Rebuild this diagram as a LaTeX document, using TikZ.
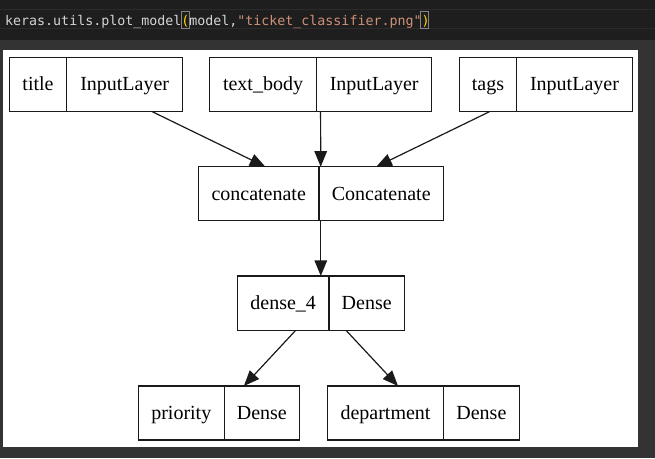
\documentclass[tikz,border=0pt]{standalone}
\usepackage{fontspec}
\setmainfont{Liberation Serif}
\newfontfamily\codefont{DejaVu Sans Mono}
\usetikzlibrary{arrows.meta,calc}
\definecolor{bgdark}{HTML}{1E1E1E}
\definecolor{bggray}{HTML}{333333}
\definecolor{bandline}{HTML}{2B2B2B}
\definecolor{codetxt}{HTML}{D4D4D4}
\definecolor{codestr}{HTML}{CE9178}
\definecolor{codebrk}{HTML}{FFD700}
\definecolor{brkbox}{HTML}{858585}
\definecolor{edgecol}{HTML}{1A1A1A}
\begin{document}
\begin{tikzpicture}[x=1pt,y=-1pt,
  rec/.style={draw=edgecol, line width=1.1pt, fill=white, minimum height=54pt, inner sep=0pt, outer sep=0pt},
  divline/.style={draw=edgecol, line width=1.1pt},
  lbl/.style={font=\fontsize{20}{24}\selectfont, anchor=base, inner sep=0pt, text=black},
  arr/.style={draw=edgecol, line width=1.2pt, -{Triangle[length=15.5pt,width=12.5pt]}}]
\useasboundingbox (0,0) rectangle (655,458);
% background
\fill[bgdark] (0,0) rectangle (655,40);
\fill[bggray] (0,40) rectangle (655,458);
\draw[bandline, line width=1pt] (0,9.5) -- (655,9.5);
\draw[bandline, line width=1pt] (0,28.5) -- (655,28.5);
\fill[white] (3,50) rectangle (638,447);
% code line
\draw[brkbox, line width=0.9pt] (181.5,11.5) rectangle (189.5,28.5);
\draw[brkbox, line width=0.9pt] (420.8,11.5) rectangle (428.6,28.5);
\node[anchor=base west, inner sep=0pt, font=\codefont\fontsize{13.3}{16}\selectfont, text=codetxt] (code) at (5,25)
  {keras.utils.plot\_model\textcolor{codebrk}{(}model,\textcolor{codestr}{"ticket\_classifier.png"}\textcolor{codebrk}{)}};
% records
\node[rec, minimum width=173.4pt] (title) at (96,84.3) {};
\draw[divline] ($(title.north west)+(57.4,0)$) -- ($(title.south west)+(57.4,0)$);
\node[lbl] (title-l) at (38,90.8) {title};
\node[lbl] (title-r) at (124.7,90.8) {InputLayer};

\node[rec, minimum width=222.4pt] (body) at (320.5,84.3) {};
\draw[divline] ($(body.north west)+(107.4,0)$) -- ($(body.south west)+(107.4,0)$);
\node[lbl] (body-l) at (263,90.8) {text\_body};
\node[lbl] (body-r) at (374.2,90.8) {InputLayer};

\node[rec, minimum width=173pt] (tags) at (545.8,84.3) {};
\draw[divline] ($(tags.north west)+(57.4,0)$) -- ($(tags.south west)+(57.4,0)$);
\node[lbl] (tags-l) at (488,90.8) {tags};
\node[lbl] (tags-r) at (574.5,90.8) {InputLayer};

\node[rec, minimum width=245pt] (concat) at (320.8,193.7) {};
\draw[divline] ($(concat.north west)+(120.7,0)$) -- ($(concat.south west)+(120.7,0)$);
\node[lbl] (concat-l) at (258.7,200.2) {concatenate};
\node[lbl] (concat-r) at (381.2,200.2) {Concatenate};

\node[rec, minimum width=167pt, minimum height=54.7pt] (dense) at (320.8,303.3) {};
\draw[divline] ($(dense.north west)+(91.7,0)$) -- ($(dense.south west)+(91.7,0)$);
\node[lbl] (dense-l) at (283.2,309.8) {dense\_4};
\node[lbl] (dense-r) at (366.7,309.8) {Dense};

\node[rec, minimum width=161pt] (prio) at (218.8,413) {};
\draw[divline] ($(prio.north west)+(86,0)$) -- ($(prio.south west)+(86,0)$);
\node[lbl] (prio-l) at (181.3,419.5) {priority};
\node[lbl] (prio-r) at (261.8,419.5) {Dense};

\node[rec, minimum width=191.7pt] (dept) at (423.2,413) {};
\draw[divline] ($(dept.north west)+(116.4,0)$) -- ($(dept.south west)+(116.4,0)$);
\node[lbl] (dept-l) at (385.5,419.5) {department};
\node[lbl] (dept-r) at (481.4,419.5) {Dense};
% edges
\draw[arr] (title) -- (concat);
\draw[arr] (body) -- (concat);
\draw[arr] (tags) -- (concat);
\draw[arr] (concat) -- (dense);
\draw[arr] (dense) -- (prio);
\draw[arr] (dense) -- (dept);
\end{tikzpicture}
\end{document}
